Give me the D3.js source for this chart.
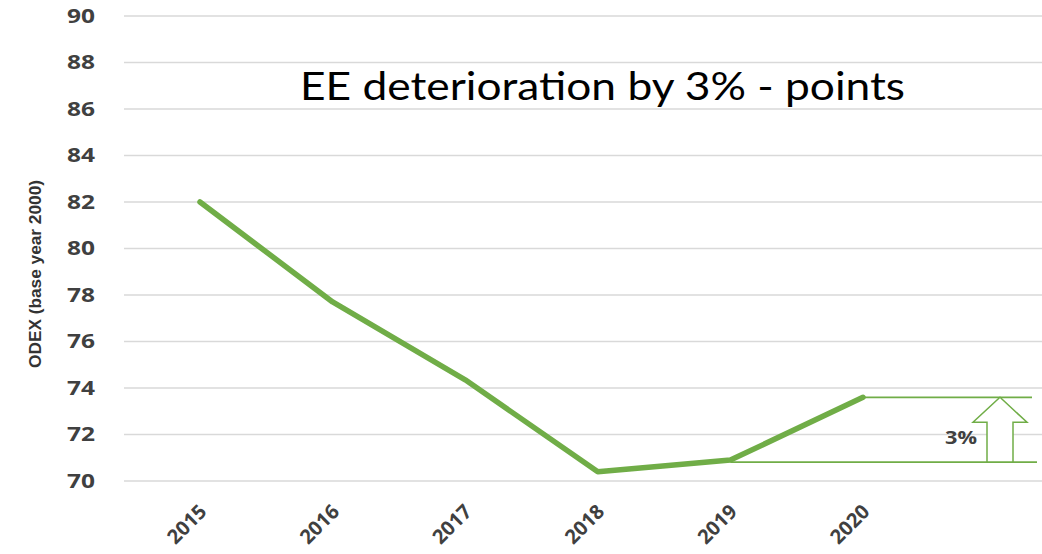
<!DOCTYPE html>
<html>
<head>
<meta charset="utf-8">
<script src="https://cdn.jsdelivr.net/npm/d3@7"></script>
<style>
  html, body { margin: 0; padding: 0; background: #ffffff; overflow: hidden; }
  svg { display: block; }
</style>
</head>
<body>
<div id="chart"></div>
<script>
const years = ["2015", "2016", "2017", "2018", "2019", "2020"];
const odex = [82.0, 77.7, 74.35, 70.4, 70.9, 73.6];
const yTicks = [70, 72, 74, 76, 78, 80, 82, 84, 86, 88, 90];
const titleText = "EE deterioration by 3% - points";
const yTitleText = "ODEX  (base year 2000)";
const deltaLabel = "3%";

const W = 1042, H = 554;
const svg = d3.select("#chart").append("svg").attr("width", W).attr("height", H);

const x = d3.scalePoint().domain(years).range([200, 863]);
const y = d3.scaleLinear().domain([70, 90]).range([481, 16]);

// gridlines
svg.append("g").selectAll("line").data(yTicks).join("line")
  .attr("x1", 124).attr("x2", W)
  .attr("y1", d => y(d)).attr("y2", d => y(d))
  .attr("stroke", "#d9d9d9").attr("stroke-width", 1.3);

// y tick labels
svg.append("g").selectAll("text").data(yTicks).join("text")
  .attr("x", 95).attr("y", d => y(d))
  .attr("dy", "0.36em")
  .attr("text-anchor", "end")
  .attr("font-family", "Open Sans, sans-serif")
  .attr("font-weight", 700)
  .attr("font-size", 19)
  .attr("fill", "#404040")
  .attr("textLength", 28).attr("lengthAdjust", "spacingAndGlyphs")
  .text(d => d);

// x tick labels
svg.append("g").selectAll("text").data(years).join("text")
  .attr("transform", d => `translate(${x(d) - 2},${503}) rotate(-45)`)
  .attr("text-anchor", "end")
  .attr("font-family", "Open Sans, sans-serif")
  .attr("font-weight", 700)
  .attr("font-size", 20)
  .attr("fill", "#404040")
  .attr("dy", "0.7em")
  .text(d => d);

// y axis title
svg.append("text")
  .attr("transform", `translate(41,274) rotate(-90)`)
  .attr("text-anchor", "middle")
  .attr("font-family", "Liberation Sans Narrow, Liberation Sans, sans-serif")
  .attr("font-weight", 700)
  .attr("font-size", 17)
  .attr("fill", "#333333")
  .attr("textLength", 188).attr("lengthAdjust", "spacingAndGlyphs")
  .text(yTitleText);

// annotation lines
const i19 = 4, i20 = 5;
svg.append("line")
  .attr("x1", x(years[i19])).attr("x2", 1037)
  .attr("y1", y(odex[i19]) + 2).attr("y2", y(odex[i19]) + 2)
  .attr("stroke", "#70ad47").attr("stroke-width", 1.8);
svg.append("line")
  .attr("x1", x(years[i20])).attr("x2", 1032)
  .attr("y1", y(odex[i20])).attr("y2", y(odex[i20]))
  .attr("stroke", "#70ad47").attr("stroke-width", 1.8);

// arrow
const ax = 1000, topY = y(odex[i20]), botY = y(odex[i19]) + 2;
const headBase = topY + 25, hw = 27, sw = 13;
svg.append("path")
  .attr("d", `M${ax},${topY} L${ax + hw},${headBase} L${ax + sw},${headBase} L${ax + sw},${botY} L${ax - sw},${botY} L${ax - sw},${headBase} L${ax - hw},${headBase} Z`)
  .attr("fill", "#ffffff").attr("stroke", "#70ad47").attr("stroke-width", 1.5);

svg.append("text")
  .attr("x", 945).attr("y", 438).attr("dy", "0.36em")
  .attr("font-family", "Open Sans, sans-serif")
  .attr("font-weight", 700)
  .attr("font-size", 18)
  .attr("fill", "#404040")
  .attr("textLength", 32).attr("lengthAdjust", "spacingAndGlyphs")
  .text(deltaLabel);

// data line
const line = d3.line().x((d, i) => x(years[i])).y(d => y(d));
svg.append("path")
  .datum(odex)
  .attr("d", line)
  .attr("fill", "none")
  .attr("stroke", "#70ad47")
  .attr("stroke-width", 5.5)
  .attr("stroke-linejoin", "round")
  .attr("stroke-linecap", "round");

// title
svg.append("text")
  .attr("x", 300).attr("y", 100)
  .attr("font-family", "Lato, Open Sans, sans-serif")
  .attr("font-size", 39)
  .attr("fill", "#000000")
  .attr("textLength", 605).attr("lengthAdjust", "spacingAndGlyphs")
  .text(titleText);
</script>
</body>
</html>
